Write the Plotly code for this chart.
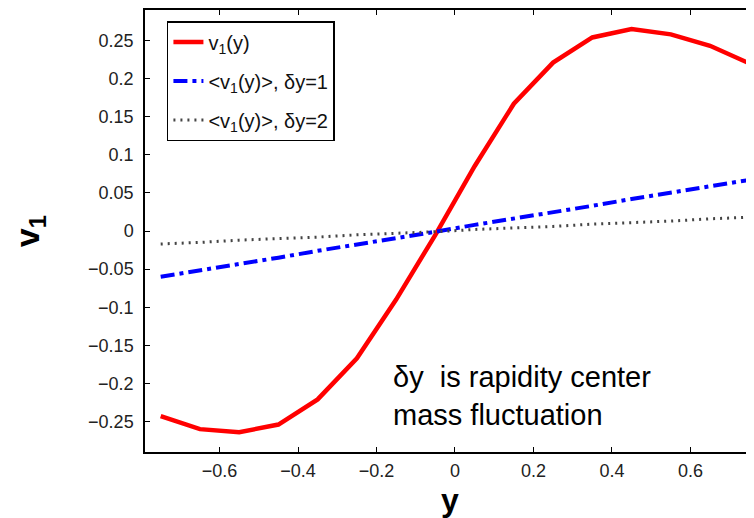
import plotly.graph_objects as go

# Data
y_rap = [-0.75, -0.65, -0.55, -0.45, -0.35, -0.25, -0.15, -0.05,
         0.05, 0.15, 0.25, 0.35, 0.45, 0.55, 0.65, 0.75]
v1 = [-0.243, -0.260, -0.264, -0.254, -0.221, -0.167, -0.090, -0.005,
      0.085, 0.167, 0.221, 0.254, 0.265, 0.258, 0.243, 0.220]
v1_avg_dy1 = [-0.060, -0.052, -0.043, -0.035, -0.026, -0.018, -0.009, -0.001,
              0.008, 0.016, 0.025, 0.033, 0.042, 0.050, 0.059, 0.067]
v1_avg_dy2 = [-0.017, -0.015, -0.012, -0.010, -0.008, -0.005, -0.003, -0.001,
              0.002, 0.004, 0.006, 0.009, 0.011, 0.013, 0.016, 0.018]

x_tickvals = [-0.6, -0.4, -0.2, 0, 0.2, 0.4, 0.6]
y_tickvals = [0.25, 0.2, 0.15, 0.1, 0.05, 0, -0.05, -0.1, -0.15, -0.2, -0.25]
y_ticktext = ["0.25", "0.2", "0.15", "0.1", "0.05", "0",
              "\u22120.05", "\u22120.1", "\u22120.15", "\u22120.2", "\u22120.25"]

names = ["v<sub>1</sub>(y)",
         "&lt;v<sub>1</sub>(y)&gt;, \u03b4y=1",
         "&lt;v<sub>1</sub>(y)&gt;, \u03b4y=2"]

FONT = "Arial, Liberation Sans, sans-serif"

fig = go.Figure()
fig.add_trace(go.Scatter(x=y_rap, y=v1, mode="lines", name=names[0],
                         legendgroup="a",
                         line=dict(color="#ff0000", width=4.5)))
fig.add_trace(go.Scatter(x=y_rap, y=v1_avg_dy1, mode="lines", name=names[1],
                         legendgroup="b",
                         line=dict(color="#0000ff", width=4, dash="14px,5px,4px,5px")))
fig.add_trace(go.Scatter(x=y_rap, y=v1_avg_dy2, mode="lines", name=names[2],
                         legendgroup="c",
                         line=dict(color="#444444", width=3, dash="2px,5px")))

# The page body adds an 8px margin, so the figure is drawn 8px smaller
fig.update_layout(
    width=746, height=510,
    margin=dict(l=137, r=0, t=0, b=66),
    paper_bgcolor="white", plot_bgcolor="white",
    font=dict(family=FONT, size=18, color="#222222"),
    showlegend=True,
    legend=dict(x=0.036, y=0.975, xanchor="left", yanchor="top",
                bordercolor="black", borderwidth=1.5, bgcolor="white",
                font=dict(family=FONT, size=20, color="#111111"),
                tracegroupgap=10, traceorder="grouped"),
    xaxis=dict(range=[-0.79, 0.762], tickvals=x_tickvals,
               ticks="inside", ticklen=5, tickcolor="black", tickwidth=1.2,
               showline=True, linecolor="black", linewidth=1.5,
               mirror="ticks", showgrid=False, zeroline=False,
               ticklabelstandoff=2,
               tickfont=dict(family=FONT, size=18, color="#222222")),
    yaxis=dict(range=[-0.29, 0.29], tickvals=y_tickvals, ticktext=y_ticktext,
               ticks="inside", ticklen=5, tickcolor="black", tickwidth=1.2,
               showline=True, linecolor="black", linewidth=1.5,
               showgrid=False, zeroline=False, ticklabelstandoff=6,
               tickfont=dict(family=FONT, size=18, color="#222222")),
    annotations=[
        dict(text="\u03b4y  is rapidity center<br>mass fluctuation",
             xref="paper", yref="paper", x=0.404, y=0.127,
             xanchor="left", yanchor="middle", align="left", showarrow=False,
             font=dict(family=FONT, size=29, color="black")),
        dict(text="<b>v<sub>1</sub></b>", xref="paper", yref="paper",
             x=-0.19, y=0.5, textangle=-90, showarrow=False,
             xanchor="center", yanchor="middle",
             font=dict(family=FONT, size=34, color="black")),
        dict(text="<b>y</b>", xref="paper", yref="paper",
             x=0.5, y=-0.108, showarrow=False,
             xanchor="center", yanchor="middle",
             font=dict(family=FONT, size=32, color="black")),
    ],
)

fig.write_html("out.html")
